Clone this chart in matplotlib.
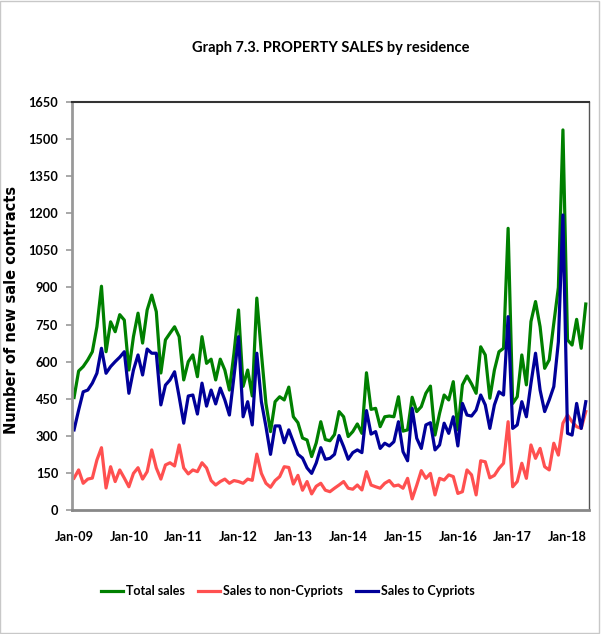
import numpy as np
import matplotlib
matplotlib.use("Agg")
import matplotlib.pyplot as plt
from matplotlib.patches import Rectangle

# monthly values Jan-09 .. May-18
total_sales = [455, 562, 580, 607, 640, 741, 905, 640, 761, 721, 790, 768,
               566, 701, 796, 675, 809, 869, 802, 554, 688, 715, 741, 701,
               526, 600, 627, 539, 701, 593, 610, 526, 610, 566, 485, 634,
               809, 500, 566, 461, 857, 634, 431, 317, 438, 458, 445, 497,
               377, 353, 291, 283, 216, 271, 357, 285, 280, 305, 398, 377,
               297, 317, 348, 310, 555, 407, 411, 337, 377, 380, 377, 458,
               319, 324, 456, 398, 418, 472, 501, 303, 391, 465, 445, 519,
               324, 506, 542, 510, 472, 660, 627, 452, 566, 640, 654, 1139,
               431, 458, 627, 506, 762, 843, 741, 573, 607, 755, 900, 1537,
               688, 667, 771, 654, 833]
non_cypriots = [129, 162, 108, 125, 129, 202, 252, 89, 175, 115, 162, 129,
                94, 148, 171, 125, 155, 243, 170, 125, 182, 191, 178, 263,
                170, 146, 162, 155, 191, 170, 119, 101, 115, 125, 108, 119,
                115, 108, 125, 120, 226, 148, 108, 92, 119, 135, 175, 172,
                105, 140, 80, 115, 65, 96, 108, 80, 74, 88, 101, 115,
                88, 84, 101, 81, 155, 101, 94, 88, 108, 119, 97, 101,
                88, 128, 45, 100, 159, 128, 148, 61, 128, 121, 142, 135,
                67, 74, 162, 142, 61, 199, 195, 130, 140, 168, 189, 357,
                94, 115, 189, 128, 263, 209, 249, 175, 162, 270, 222, 351,
                384, 357, 337, 330, 398]
cypriots = [324, 404, 478, 485, 513, 553, 654, 553, 580, 600, 618, 640,
            472, 566, 627, 546, 651, 634, 634, 425, 505, 526, 559, 458,
            351, 461, 465, 388, 513, 420, 485, 429, 493, 445, 384, 540,
            701, 377, 438, 344, 634, 438, 337, 225, 340, 340, 272, 324,
            275, 225, 210, 170, 148, 190, 252, 205, 209, 225, 301, 256,
            205, 232, 243, 232, 402, 307, 317, 249, 270, 259, 276, 357,
            236, 199, 411, 290, 249, 344, 353, 243, 263, 351, 310, 377,
            259, 431, 384, 380, 404, 465, 425, 330, 425, 478, 465, 782,
            330, 344, 438, 377, 512, 634, 485, 398, 445, 499, 680, 1193,
            310, 303, 431, 330, 438]
year_labels = ["Jan-09", "Jan-10", "Jan-11", "Jan-12", "Jan-13",
               "Jan-14", "Jan-15", "Jan-16", "Jan-17", "Jan-18"]

months = np.arange(len(total_sales))
fam = ["Lato", "DejaVu Sans"]

fig = plt.figure(figsize=(6.01, 6.34), dpi=100)
ax = fig.add_axes([0.1198, 0.1956, 0.8602, 0.6435])

ax.plot(months, total_sales, color="#008000", lw=2.3, label="Total sales")
ax.plot(months, non_cypriots, color="#ff5050", lw=2.3, label="Sales to non-Cypriots")
ax.plot(months, cypriots, color="#000099", lw=2.3, label="Sales to Cypriots")

ax.set_xlim(-0.45, 112.7)
ax.set_ylim(0, 1650)
ax.set_yticks(np.arange(0, 1651, 150))
ax.set_xticks(np.arange(0, 109, 12))
ax.set_xticklabels(year_labels)
for lab in ax.get_yticklabels() + ax.get_xticklabels():
    lab.set_fontweight("bold")
    lab.set_family(fam)
    lab.set_fontsize(9.2)
ax.tick_params(axis="y", length=4, width=1.2, color="#999999", pad=6)
ax.tick_params(axis="x", length=0, pad=15)

ax.spines["top"].set_color("#333333")
ax.spines["top"].set_linewidth(1.5)
ax.spines["right"].set_color("#555555")
ax.spines["right"].set_linewidth(1.0)
ax.spines["left"].set_color("#999999")
ax.spines["left"].set_linewidth(2)
ax.spines["bottom"].set_color("#888888")
ax.spines["bottom"].set_linewidth(2)

ax.set_ylabel("Number of new sale contracts", fontsize=10.5, fontweight="bold",
              family="DejaVu Sans")
ax.yaxis.set_label_coords(-0.102, 0.49)
fig.text(0.55, 0.924, "Graph 7.3. PROPERTY SALES by residence", ha="center",
         va="center", fontsize=10.5, fontweight="bold", family=fam)

leg = fig.legend(loc="center", bbox_to_anchor=(0.479, 0.068), ncol=3, frameon=False,
                 handlelength=1.7, handletextpad=0.25, columnspacing=1.1,
                 prop={"family": fam, "weight": "bold", "size": 9})

fig.patches.append(Rectangle((0.0, 0.002), 0.997, 0.996, transform=fig.transFigure,
                             fill=False, edgecolor="#c8c8c8", lw=1))

fig.savefig("out.png", dpi=100, facecolor="white")
